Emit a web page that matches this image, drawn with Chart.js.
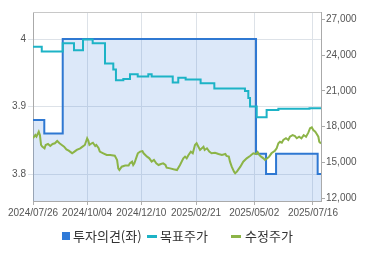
<!DOCTYPE html>
<html>
<head>
  <meta charset="UTF-8" />
  <title>투자의견 / 목표주가 / 수정주가</title>
  <script src="https://cdn.jsdelivr.net/npm/chart.js"></script>
  <style>
    html, body { margin: 0; padding: 0; background: #fff; }
    .wrap { position: relative; width: 370px; height: 255px; }
    .legend {
      position: absolute; top: 228px; left: 0; width: 370px; height: 16px;
      font-family: 'Noto Sans CJK KR', sans-serif; font-size: 13px; color: #333;
    }
    .legend span { position: absolute; top: 0; line-height: 16px; white-space: nowrap; }
    .legend i { position: absolute; display: block; }
  </style>
</head>
<body>
<div class="wrap">
  <canvas id="c" width="370" height="255"></canvas>
  <div class="legend">
    <i style="left:62px; top:4px; width:8px; height:8px; background:#2f7ad8;"></i>
    <span style="left:73px;">투자의견(좌)</span>
    <i style="left:147px; top:7px; width:10px; height:3px; background:#1db3c6;"></i>
    <span style="left:160px;">목표주가</span>
    <i style="left:231px; top:7px; width:10px; height:3px; background:#8cb447;"></i>
    <span style="left:245px;">수정주가</span>
  </div>
</div>
<script>
// x = trading-day index since 2024/07/26
const xTickIdx = [0, 47, 94, 141.5, 192, 243];
const xTickLabels = ['2024/07/26', '2024/10/04', '2024/12/10', '2025/02/21', '2025/05/02', '2025/07/16'];
const leftTicks = [3.8, 3.9, 4.0];
const rightTicks = [12000, 15000, 18000, 21000, 24000, 27000];

// 투자의견 (left axis, stepped)
const opinionX = [0, 9.8, 25.8, 193.6, 202.3, 211, 247.1, 250];
const opinionY = [3.88, 3.86, 4.0, 3.83, 3.8, 3.83, 3.8, 3.8];

// 목표주가 (right axis, stepped)
const targetX = [0, 7.6, 25.8, 35.6, 43.4, 51.8, 62.5, 69.7, 72, 78.4, 84.2, 90.9, 100.1, 103, 121.3, 126.1,
  132.5, 145.5, 157.4, 184, 186.9, 188.4, 194.2, 202.8, 213, 240, 250];
const targetY = [24700, 24300, 25000, 24400, 25300, 25000, 23300, 22800, 21900, 22000, 22400, 22200, 22400, 22200, 21700, 22100,
  21950, 21650, 21200, 21000, 20400, 19700, 18800, 19400, 19500, 19550, 19550];

// 수정주가 (right axis)
const priceX = [0, 2, 3, 5, 6, 7, 8, 10, 11, 13, 15, 17, 19, 21, 23, 25, 27, 29, 31, 33, 34, 36, 38, 41, 43, 45,
  47, 48, 49, 51, 52, 54, 55, 57, 58, 61, 64, 67, 71, 73, 74, 75, 77, 80, 83, 84, 86, 87, 88, 90, 91, 93,
  95, 96, 99, 101, 103, 105, 107, 109, 111, 113, 115, 116, 119, 122, 125, 127.6, 130.5, 132, 133.4, 135, 137,
  138.7, 140.6, 142, 145, 148, 149, 151, 153, 155, 158, 161, 164, 167, 168, 170, 171, 172.5, 174.5, 175.5,
  177, 180, 182.5, 185.5, 188.4, 191.2, 193.6, 195, 196.4, 198, 200, 201.4, 203.4, 205, 207, 210, 211.5, 213,
  214.4, 216, 217.3, 219.6, 221.6, 223, 225.4, 227.4, 229, 231, 233, 235, 237, 239, 240.5, 242, 243.3, 245,
  246.3, 247.7, 248.5, 250];
const priceY = [17030, 17300, 17170, 17580, 17300, 16470, 16330, 16190, 16470, 16550, 16380, 16550, 16610, 16800,
  16610, 16470, 16330, 16100, 15990, 15850, 15770, 15910, 16050, 16190, 16330, 16470, 17030, 16830, 16470, 16610,
  16660, 16380, 16470, 16190, 15910, 15770, 15630, 15630, 15570, 15210, 14510, 14370, 14650, 14740, 14740, 14930,
  15070, 14790, 14930, 15490, 15770, 15910, 15960, 15770, 15490, 15350, 15070, 15210, 14930, 14790, 14870, 14930,
  14790, 14570, 14510, 14430, 14370, 14790, 15350, 15490, 15350, 15630, 15910, 15770, 16470, 16610, 16050, 16320,
  16050, 16190, 15910, 15770, 15820, 15710, 15630, 15710, 15550, 15490, 15070, 14650, 14230, 14100, 14230, 14650,
  15070, 15350, 15550, 15770, 15710, 15880, 15630, 15490, 15350, 15210, 15350, 15490, 15770, 15990, 16190, 16610,
  16740, 16660, 16890, 17030, 16890, 17160, 17300, 17220, 17030, 17160, 17030, 17300, 17160, 17500, 17870, 17950,
  17720, 17580, 17390, 17160, 16740, 16600];

const pts = (xs, ys) => xs.map((x, i) => ({ x: x, y: ys[i] }));
const tickFont = { family: 'Liberation Sans, Arial, sans-serif', size: 10 };

// top border of the plot box
const frame = {
  id: 'frame',
  afterDraw(chart) {
    const a = chart.chartArea, ctx = chart.ctx;
    ctx.save();
    ctx.strokeStyle = '#c8c8c8';
    ctx.lineWidth = 1;
    ctx.beginPath();
    ctx.moveTo(a.left, a.top + 0.5);
    ctx.lineTo(a.right, a.top + 0.5);
    ctx.stroke();
    ctx.restore();
  }
};

new Chart(document.getElementById('c'), {
  type: 'line',
  data: {
    datasets: [
      {
        label: '수정주가', data: pts(priceX, priceY), yAxisID: 'y1',
        borderColor: '#8cb447', borderWidth: 2, pointRadius: 0, tension: 0, order: 1
      },
      {
        label: '목표주가', data: pts(targetX, targetY), yAxisID: 'y1', stepped: true,
        borderColor: '#1db3c6', borderWidth: 2, pointRadius: 0, order: 2
      },
      {
        label: '투자의견(좌)', data: pts(opinionX, opinionY), yAxisID: 'y', stepped: true,
        borderColor: '#2f78d2', borderWidth: 2, pointRadius: 0,
        fill: 'start', backgroundColor: 'rgba(80,140,225,0.2)', order: 3
      }
    ]
  },
  options: {
    responsive: false,
    animation: false,
    layout: { padding: { top: 12, left: 0, right: 0, bottom: 0 } },
    plugins: { legend: { display: false }, tooltip: { enabled: false } },
    scales: {
      x: {
        type: 'linear', min: 0, max: 250,
        afterBuildTicks: s => { s.ticks = xTickIdx.map(v => ({ value: v })); },
        afterFit: s => { s.height = 54; },
        ticks: {
          callback: (v, i) => xTickLabels[i], font: tickFont, color: '#555',
          padding: 2, maxRotation: 0, autoSkip: false
        },
        grid: { color: '#dde2e8', tickLength: 4, tickColor: '#b0b0b0' },
        border: { color: '#aaa' }
      },
      y: {
        position: 'left', min: 3.76, max: 4.04,
        afterBuildTicks: s => { s.ticks = leftTicks.map(v => ({ value: v })); },
        afterFit: s => { s.width = 33; },
        ticks: { callback: v => String(+v.toFixed(1)), font: tickFont, color: '#555', padding: 2 },
        grid: { color: '#dde2e8', tickLength: 5 },
        border: { color: '#aaa' }
      },
      y1: {
        position: 'right', min: 11774, max: 27612,
        afterBuildTicks: s => { s.ticks = rightTicks.map(v => ({ value: v })); },
        afterFit: s => { s.width = 49; },
        ticks: { callback: v => v.toLocaleString('en-US'), font: tickFont, color: '#555', padding: 1 },
        grid: { drawOnChartArea: false, tickLength: 4, color: '#aaa' },
        border: { color: '#aaa' }
      }
    }
  },
  plugins: [frame]
});
</script>
</body>
</html>
